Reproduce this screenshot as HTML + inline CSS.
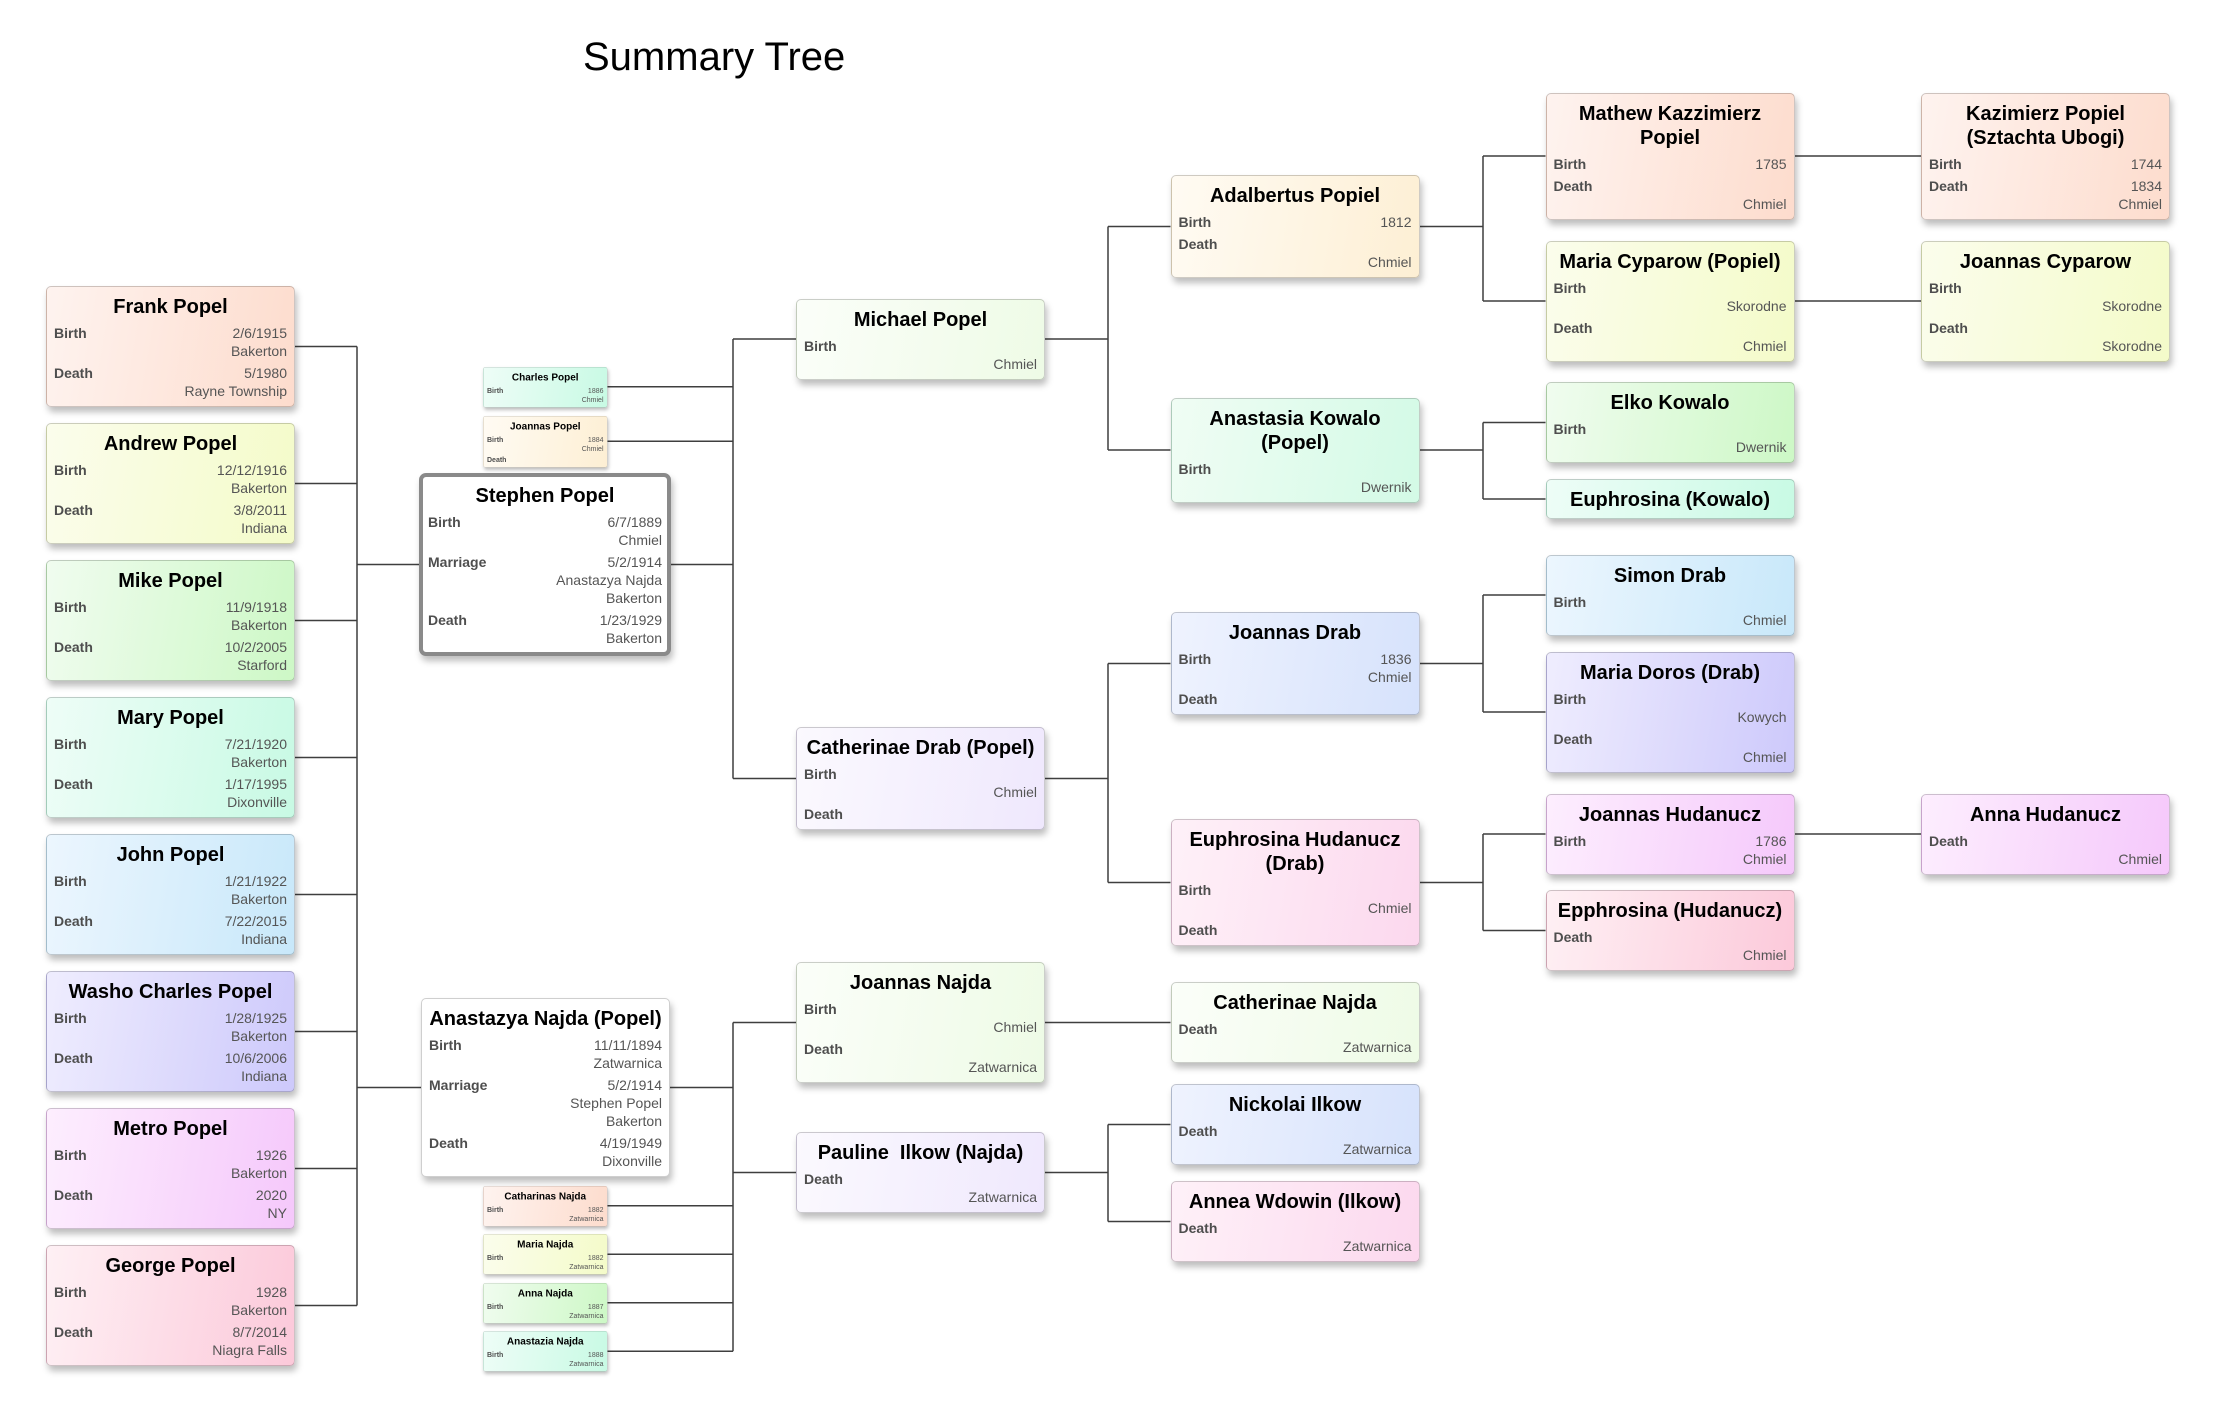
<!DOCTYPE html>
<html>
<head>
<meta charset="utf-8">
<style>
html,body{margin:0;padding:0;background:#fff;}
body{width:2229px;height:1426px;position:relative;overflow:hidden;font-family:"Liberation Sans",Arial,Helvetica,sans-serif;}
.title{position:absolute;left:583px;top:37px;font-size:40px;line-height:40px;color:#000;white-space:nowrap;}
svg{position:absolute;left:0;top:0;}
.b{position:absolute;width:249px;box-sizing:border-box;border:1px solid rgba(0,0,0,.19);border-radius:5px;padding:8px 7px 6px 7px;box-shadow:2px 5px 7px rgba(0,0,0,.26);}
.b.s{transform:scale(0.5);transform-origin:0 0;}
.n{font-size:20px;font-weight:bold;line-height:24px;text-align:center;white-space:nowrap;color:#000;margin:0 -12px;}
.rs{margin-top:5px;}
.r{position:relative;font-size:14px;line-height:18px;color:#555;text-align:right;white-space:nowrap;}
.r+.r{margin-top:4px;}
.l{position:absolute;left:0;top:0;font-weight:bold;color:#4e4e4e;}
.st{border:4px solid #8a8a8a;border-radius:7px;padding:7px 5px 5px 5px;width:252px;background:#fff;}
.white{background:#fff;}
.peach{background:linear-gradient(100deg,#fef3ef,#fddccd);}
.yellow{background:linear-gradient(100deg,#fbfdec,#f4fbc9);}
.green{background:linear-gradient(100deg,#f0fcef,#cdf8c6);}
.mint{background:linear-gradient(100deg,#eefdf7,#c8fae4);}
.blue{background:linear-gradient(100deg,#ecf6fe,#c8e8fa);}
.lav{background:linear-gradient(100deg,#efedfe,#cdc9fb);}
.violet{background:linear-gradient(100deg,#fdeefe,#f5c8fb);}
.pink{background:linear-gradient(100deg,#fef0f4,#fcc9da);}
.lgreen{background:linear-gradient(100deg,#fbfef9,#eefbe6);}
.llav{background:linear-gradient(100deg,#fbf9fe,#efe8fd);}
.cream{background:linear-gradient(100deg,#fffbf3,#fdefd4);}
.lmint{background:linear-gradient(100deg,#f0fdf4,#d3fae6);}
.lblue{background:linear-gradient(100deg,#eff3fe,#d6e2fc);}
.lpink{background:linear-gradient(100deg,#fef1f8,#fcd8ee);}
</style>
</head>
<body>
<div class="title">Summary Tree</div>

<svg width="2229" height="1426" viewBox="0 0 2229 1426">
<g fill="none" stroke="#3f3f3f" stroke-width="1.5">
<path d="M357 346.5 V1305.5 M295 346.5 H357 M295 483.5 H357 M295 620.5 H357 M295 757.5 H357 M295 894.5 H357 M295 1031.5 H357 M295 1168.5 H357 M295 1305.5 H357 M357 564.5 H419 M357 1087.5 H421"/>
<path d="M733 339 V778.5 M733 339 H796 M607.5 386.75 H733 M607.5 441.25 H733 M671 564.5 H733 M733 778.5 H796"/>
<path d="M733 1022.5 V1351.25 M733 1022.5 H796 M670 1087.5 H733 M607.5 1205.75 H733 M607.5 1254.25 H733 M607.5 1302.75 H733 M607.5 1351.25 H733 M733 1172.5 H796"/>
<path d="M1045 339 H1108 M1108 226.5 V450 M1108 226.5 H1170.5 M1108 450 H1170.5"/>
<path d="M1045 778.5 H1108 M1108 663.5 V882.5 M1108 663.5 H1170.5 M1108 882.5 H1170.5"/>
<path d="M1045 1022.5 H1170.5"/>
<path d="M1045 1172.5 H1108 M1108 1124.5 V1221.5 M1108 1124.5 H1170.5 M1108 1221.5 H1170.5"/>
<path d="M1419.5 226.5 H1483 M1483 156 V301 M1483 156 H1545.5 M1483 301 H1545.5"/>
<path d="M1419.5 450 H1483 M1483 422.5 V499 M1483 422.5 H1545.5 M1483 499 H1545.5"/>
<path d="M1419.5 663.5 H1483 M1483 595 V712 M1483 595 H1545.5 M1483 712 H1545.5"/>
<path d="M1419.5 882.5 H1483 M1483 834 V930.5 M1483 834 H1545.5 M1483 930.5 H1545.5"/>
<path d="M1794.5 156 H1921 M1794.5 301 H1921 M1794.5 834 H1921"/>
</g>
</svg>

<div class="b peach" style="left:46px;top:286px"><div class="n">Frank Popel</div><div class="rs"><div class="r"><span class="l">Birth</span>2/6/1915<br>Bakerton</div><div class="r"><span class="l">Death</span>5/1980<br>Rayne Township</div></div></div>
<div class="b yellow" style="left:46px;top:423px"><div class="n">Andrew Popel</div><div class="rs"><div class="r"><span class="l">Birth</span>12/12/1916<br>Bakerton</div><div class="r"><span class="l">Death</span>3/8/2011<br>Indiana</div></div></div>
<div class="b green" style="left:46px;top:560px"><div class="n">Mike Popel</div><div class="rs"><div class="r"><span class="l">Birth</span>11/9/1918<br>Bakerton</div><div class="r"><span class="l">Death</span>10/2/2005<br>Starford</div></div></div>
<div class="b mint" style="left:46px;top:697px"><div class="n">Mary Popel</div><div class="rs"><div class="r"><span class="l">Birth</span>7/21/1920<br>Bakerton</div><div class="r"><span class="l">Death</span>1/17/1995<br>Dixonville</div></div></div>
<div class="b blue" style="left:46px;top:834px"><div class="n">John Popel</div><div class="rs"><div class="r"><span class="l">Birth</span>1/21/1922<br>Bakerton</div><div class="r"><span class="l">Death</span>7/22/2015<br>Indiana</div></div></div>
<div class="b lav" style="left:46px;top:971px"><div class="n">Washo Charles Popel</div><div class="rs"><div class="r"><span class="l">Birth</span>1/28/1925<br>Bakerton</div><div class="r"><span class="l">Death</span>10/6/2006<br>Indiana</div></div></div>
<div class="b violet" style="left:46px;top:1108px"><div class="n">Metro Popel</div><div class="rs"><div class="r"><span class="l">Birth</span>1926<br>Bakerton</div><div class="r"><span class="l">Death</span>2020<br>NY</div></div></div>
<div class="b pink" style="left:46px;top:1245px"><div class="n">George Popel</div><div class="rs"><div class="r"><span class="l">Birth</span>1928<br>Bakerton</div><div class="r"><span class="l">Death</span>8/7/2014<br>Niagra Falls</div></div></div>

<div class="b st" style="left:419px;top:473px"><div class="n">Stephen Popel</div><div class="rs"><div class="r"><span class="l">Birth</span>6/7/1889<br>Chmiel</div><div class="r"><span class="l">Marriage</span>5/2/1914<br>Anastazya Najda<br>Bakerton</div><div class="r"><span class="l">Death</span>1/23/1929<br>Bakerton</div></div></div>
<div class="b white" style="left:421px;top:998px"><div class="n">Anastazya Najda (Popel)</div><div class="rs"><div class="r"><span class="l">Birth</span>11/11/1894<br>Zatwarnica</div><div class="r"><span class="l">Marriage</span>5/2/1914<br>Stephen Popel<br>Bakerton</div><div class="r"><span class="l">Death</span>4/19/1949<br>Dixonville</div></div></div>

<div class="b s mint" style="left:483px;top:366.5px"><div class="n">Charles Popel</div><div class="rs"><div class="r"><span class="l">Birth</span>1886<br>Chmiel</div></div></div>
<div class="b s cream" style="left:483px;top:415.5px"><div class="n">Joannas Popel</div><div class="rs"><div class="r"><span class="l">Birth</span>1884<br>Chmiel</div><div class="r"><span class="l">Death</span>&nbsp;</div></div></div>
<div class="b s peach" style="left:483px;top:1185.5px"><div class="n">Catharinas Najda</div><div class="rs"><div class="r"><span class="l">Birth</span>1882<br>Zatwarnica</div></div></div>
<div class="b s yellow" style="left:483px;top:1234px"><div class="n">Maria Najda</div><div class="rs"><div class="r"><span class="l">Birth</span>1882<br>Zatwarnica</div></div></div>
<div class="b s green" style="left:483px;top:1282.5px"><div class="n">Anna Najda</div><div class="rs"><div class="r"><span class="l">Birth</span>1887<br>Zatwarnica</div></div></div>
<div class="b s mint" style="left:483px;top:1331px"><div class="n">Anastazia Najda</div><div class="rs"><div class="r"><span class="l">Birth</span>1888<br>Zatwarnica</div></div></div>

<div class="b lgreen" style="left:796px;top:298.5px"><div class="n">Michael Popel</div><div class="rs"><div class="r"><span class="l">Birth</span>&nbsp;<br>Chmiel</div></div></div>
<div class="b llav" style="left:796px;top:727px"><div class="n">Catherinae Drab (Popel)</div><div class="rs"><div class="r"><span class="l">Birth</span>&nbsp;<br>Chmiel</div><div class="r"><span class="l">Death</span>&nbsp;</div></div></div>
<div class="b lgreen" style="left:796px;top:962px"><div class="n">Joannas Najda</div><div class="rs"><div class="r"><span class="l">Birth</span>&nbsp;<br>Chmiel</div><div class="r"><span class="l">Death</span>&nbsp;<br>Zatwarnica</div></div></div>
<div class="b llav" style="left:796px;top:1132px"><div class="n">Pauline &nbsp;Ilkow (Najda)</div><div class="rs"><div class="r"><span class="l">Death</span>&nbsp;<br>Zatwarnica</div></div></div>

<div class="b cream" style="left:1170.5px;top:175px"><div class="n">Adalbertus Popiel</div><div class="rs"><div class="r"><span class="l">Birth</span>1812</div><div class="r"><span class="l">Death</span>&nbsp;<br>Chmiel</div></div></div>
<div class="b lmint" style="left:1170.5px;top:397.5px"><div class="n">Anastasia Kowalo<br>(Popel)</div><div class="rs"><div class="r"><span class="l">Birth</span>&nbsp;<br>Dwernik</div></div></div>
<div class="b lblue" style="left:1170.5px;top:612px"><div class="n">Joannas Drab</div><div class="rs"><div class="r"><span class="l">Birth</span>1836<br>Chmiel</div><div class="r"><span class="l">Death</span>&nbsp;</div></div></div>
<div class="b lpink" style="left:1170.5px;top:819px"><div class="n">Euphrosina Hudanucz<br>(Drab)</div><div class="rs"><div class="r"><span class="l">Birth</span>&nbsp;<br>Chmiel</div><div class="r"><span class="l">Death</span>&nbsp;</div></div></div>
<div class="b lgreen" style="left:1170.5px;top:982px"><div class="n">Catherinae Najda</div><div class="rs"><div class="r"><span class="l">Death</span>&nbsp;<br>Zatwarnica</div></div></div>
<div class="b lblue" style="left:1170.5px;top:1084px"><div class="n">Nickolai Ilkow</div><div class="rs"><div class="r"><span class="l">Death</span>&nbsp;<br>Zatwarnica</div></div></div>
<div class="b lpink" style="left:1170.5px;top:1181px"><div class="n">Annea Wdowin (Ilkow)</div><div class="rs"><div class="r"><span class="l">Death</span>&nbsp;<br>Zatwarnica</div></div></div>

<div class="b peach" style="left:1545.5px;top:92.5px"><div class="n">Mathew Kazzimierz<br>Popiel</div><div class="rs"><div class="r"><span class="l">Birth</span>1785</div><div class="r"><span class="l">Death</span>&nbsp;<br>Chmiel</div></div></div>
<div class="b yellow" style="left:1545.5px;top:240.5px"><div class="n">Maria Cyparow (Popiel)</div><div class="rs"><div class="r"><span class="l">Birth</span>&nbsp;<br>Skorodne</div><div class="r"><span class="l">Death</span>&nbsp;<br>Chmiel</div></div></div>
<div class="b green" style="left:1545.5px;top:382px"><div class="n">Elko Kowalo</div><div class="rs"><div class="r"><span class="l">Birth</span>&nbsp;<br>Dwernik</div></div></div>
<div class="b mint" style="left:1545.5px;top:479px"><div class="n">Euphrosina (Kowalo)</div></div>
<div class="b blue" style="left:1545.5px;top:554.5px"><div class="n">Simon Drab</div><div class="rs"><div class="r"><span class="l">Birth</span>&nbsp;<br>Chmiel</div></div></div>
<div class="b lav" style="left:1545.5px;top:651.5px"><div class="n">Maria Doros (Drab)</div><div class="rs"><div class="r"><span class="l">Birth</span>&nbsp;<br>Kowych</div><div class="r"><span class="l">Death</span>&nbsp;<br>Chmiel</div></div></div>
<div class="b violet" style="left:1545.5px;top:793.5px"><div class="n">Joannas Hudanucz</div><div class="rs"><div class="r"><span class="l">Birth</span>1786<br>Chmiel</div></div></div>
<div class="b pink" style="left:1545.5px;top:890px"><div class="n">Epphrosina (Hudanucz)</div><div class="rs"><div class="r"><span class="l">Death</span>&nbsp;<br>Chmiel</div></div></div>

<div class="b peach" style="left:1921px;top:92.5px"><div class="n">Kazimierz Popiel<br>(Sztachta Ubogi)</div><div class="rs"><div class="r"><span class="l">Birth</span>1744</div><div class="r"><span class="l">Death</span>1834<br>Chmiel</div></div></div>
<div class="b yellow" style="left:1921px;top:240.5px"><div class="n">Joannas Cyparow</div><div class="rs"><div class="r"><span class="l">Birth</span>&nbsp;<br>Skorodne</div><div class="r"><span class="l">Death</span>&nbsp;<br>Skorodne</div></div></div>
<div class="b violet" style="left:1921px;top:793.5px"><div class="n">Anna Hudanucz</div><div class="rs"><div class="r"><span class="l">Death</span>&nbsp;<br>Chmiel</div></div></div>

</body>
</html>
